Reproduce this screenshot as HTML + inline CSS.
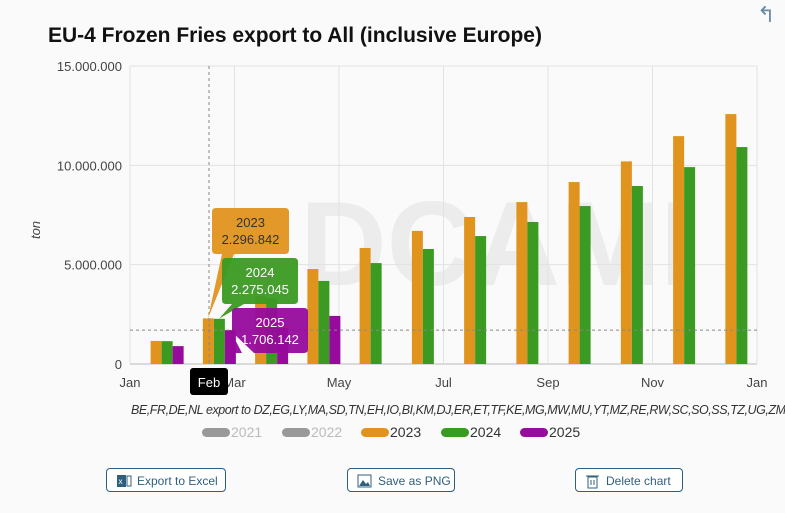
<!DOCTYPE html>
<html><head><meta charset="utf-8"><style>
body{margin:0;width:785px;height:513px;background:#fafafa;font-family:"Liberation Sans",sans-serif;position:relative;overflow:hidden}
.btn{position:absolute;top:468px;height:24px;border:1px solid #2f5f7f;border-radius:4px;background:#fff;color:#2f5f7f;font-size:12px;line-height:24px;box-sizing:border-box;padding-left:30px}
.btn svg{position:absolute;left:9px;top:4px}
</style></head><body>
<div style="position:absolute;left:757px;top:2px;color:#6b8ba4;font-size:22px">&#x21B0;</div>
<div style="position:absolute;left:48px;top:24px;font-size:21px;font-weight:bold;color:#111">EU-4 Frozen Fries export to All (inclusive Europe)</div>
<svg id="chart" width="785" height="460" style="position:absolute;left:0;top:0"></svg>
<div class="btn" style="left:106px;width:120px"><svg width="16" height="16"><rect x="1" y="2" width="9" height="12" fill="#2f5f7f"/><text x="2.5" y="11" font-size="8" fill="#fff" font-family="Liberation Sans">x</text><rect x="11" y="3" width="4" height="10" fill="none" stroke="#2f5f7f"/></svg>Export to Excel</div>
<div class="btn" style="left:347px;width:108px"><svg width="16" height="16"><rect x="1" y="2" width="13" height="12" fill="none" stroke="#2f5f7f"/><path d="M2 13 L6 7 L9 11 L11 9 L13 13Z" fill="#2f5f7f"/></svg>Save as PNG</div>
<div class="btn" style="left:575px;width:108px"><svg width="16" height="16"><rect x="3" y="4" width="9" height="11" fill="none" stroke="#2f5f7f"/><line x1="1" y1="3" x2="14" y2="3" stroke="#2f5f7f"/><line x1="6" y1="7" x2="6" y2="12" stroke="#2f5f7f"/><line x1="9" y1="7" x2="9" y2="12" stroke="#2f5f7f"/></svg>Delete chart</div>
<script>
const months=['Jan','Feb','Mar','Apr','May','Jun','Jul','Aug','Sep','Oct','Nov','Dec'];
const s2023=[1.16,2.296842,3.4,4.78,5.84,6.7,7.4,8.15,9.16,10.2,11.47,12.58];
const s2024=[1.15,2.275045,3.3,4.18,5.08,5.79,6.44,7.15,7.95,8.96,9.91,10.92];
const s2025=[0.9,1.706142,1.8,2.42,null,null,null,null,null,null,null,null];
const yTicks=[0,5,10,15];
const yTickLabels=['0','5.000.000','10.000.000','15.000.000'];
const xTickLabels=['Jan','Mar','May','Jul','Sep','Nov','Jan'];
const NS='http://www.w3.org/2000/svg',svg=document.getElementById('chart');
const L=130,R=757,T=66,B=364;
const y=v=>B-(v/15)*(B-T);
const xm=i=>L+(i+0.5)*(R-L)/12+11;
function el(t,a,txt){const e=document.createElementNS(NS,t);for(const k in a)e.setAttribute(k,a[k]);if(txt!=null)e.textContent=txt;svg.appendChild(e);return e;}
const wm=el('text',{x:300,y:285,'font-size':120,'font-weight':'bold',fill:'#ececec','font-family':'Liberation Sans'},'DCAMI');


yTicks.forEach((t,i)=>{
 const g=el('line',{x1:L,x2:R,y1:y(t),y2:y(t),stroke:i==0?'#bbb':'#e2e2e2'});
 
 
 const lb=el('text',{x:122,y:y(t)+5,'text-anchor':'end','font-size':13,fill:'#444'},yTickLabels[i]);
 
 
});
xTickLabels.forEach((t,i)=>{
 const x=L+i*(R-L)/6;
 const g=el('line',{x1:x,x2:x,y1:T,y2:B,stroke:'#e2e2e2'});
 
 
 const lb=el('text',{x:x,y:387,'text-anchor':'middle','font-size':13,fill:'#444'},t);
 
 
});
const yt=el('text',{x:40,y:230,transform:'rotate(-90 40 230)','text-anchor':'middle','font-size':13,'font-style':'italic',fill:'#444'},'ton');


const series=[[s2023,'#e0941e','2023'],[s2024,'#3a9a22','2024'],[s2025,'#960a9c','2025']];
const bw=11;
series.forEach((s,k)=>{s[0].forEach((v,i)=>{if(v==null)return;
 const b=el('rect',{x:xm(i)-16.5+k*bw,y:y(v),width:bw,height:B-y(v),fill:s[1]});
 
 
});});
const cx=el('line',{x1:209,x2:209,y1:T,y2:B,stroke:'#888','stroke-dasharray':'3,3'});


const ch=el('line',{x1:L,x2:R,y1:y(s2025[1]),y2:y(s2025[1]),stroke:'#888','stroke-dasharray':'3,3'});


function tip(name,x,yy,w,h,col,tc,l1,l2,px,py){
 const p=el('path',{d:`M${x+4} ${yy} H${x+w-4} Q${x+w} ${yy} ${x+w} ${yy+4} V${yy+h-4} Q${x+w} ${yy+h} ${x+w-4} ${yy+h} H${x+22} L${px} ${py} L${x+10} ${yy+h} H${x+4} Q${x} ${yy+h} ${x} ${yy+h-4} V${yy+4} Q${x} ${yy} ${x+4} ${yy}Z`,fill:col,opacity:0.95});
 
 
 const a=el('text',{x:x+w/2,y:yy+19,'text-anchor':'middle','font-size':13,fill:tc},l1);
 
 
 const c=el('text',{x:x+w/2,y:yy+36,'text-anchor':'middle','font-size':13,fill:tc},l2);
 
 
}
tip('tooltip-2023',212,208,77,46,'#e0941e','#333','2023','2.296.842',208,y(s2023[1]));
tip('tooltip-2024',222,258,76,46,'#3a9a22','#fff','2024','2.275.045',219,y(s2024[1]));
tip('tooltip-2025',232,308,76,45,'#960a9c','#fff','2025','1.706.142',230,330);
const fb=el('rect',{x:190,y:368,width:38,height:27,rx:3,fill:'#000'});


const ft=el('text',{x:209,y:387,'text-anchor':'middle','font-size':13,fill:'#fff'},'Feb');


const sub=el('text',{x:131,y:414,'font-size':12.5,'font-style':'italic',fill:'#333',textLength:655},'BE,FR,DE,NL export to DZ,EG,LY,MA,SD,TN,EH,IO,BI,KM,DJ,ER,ET,TF,KE,MG,MW,MU,YT,MZ,RE,RW,SC,SO,SS,TZ,UG,ZM');


const leg=[['2021','#999','#bbb'],['2022','#999','#bbb'],['2023','#e0941e','#333'],['2024','#3a9a22','#333'],['2025','#960a9c','#333']];
const lx=[202,282,361,441,520];
leg.forEach((l,i)=>{
 const r=el('rect',{x:lx[i],y:428,width:28,height:9,rx:4.5,fill:l[1]});
 
 
 const t=el('text',{x:lx[i]+29,y:437,'font-size':14,fill:l[2]},l[0]);
 
 
});
</script>
</body></html>
